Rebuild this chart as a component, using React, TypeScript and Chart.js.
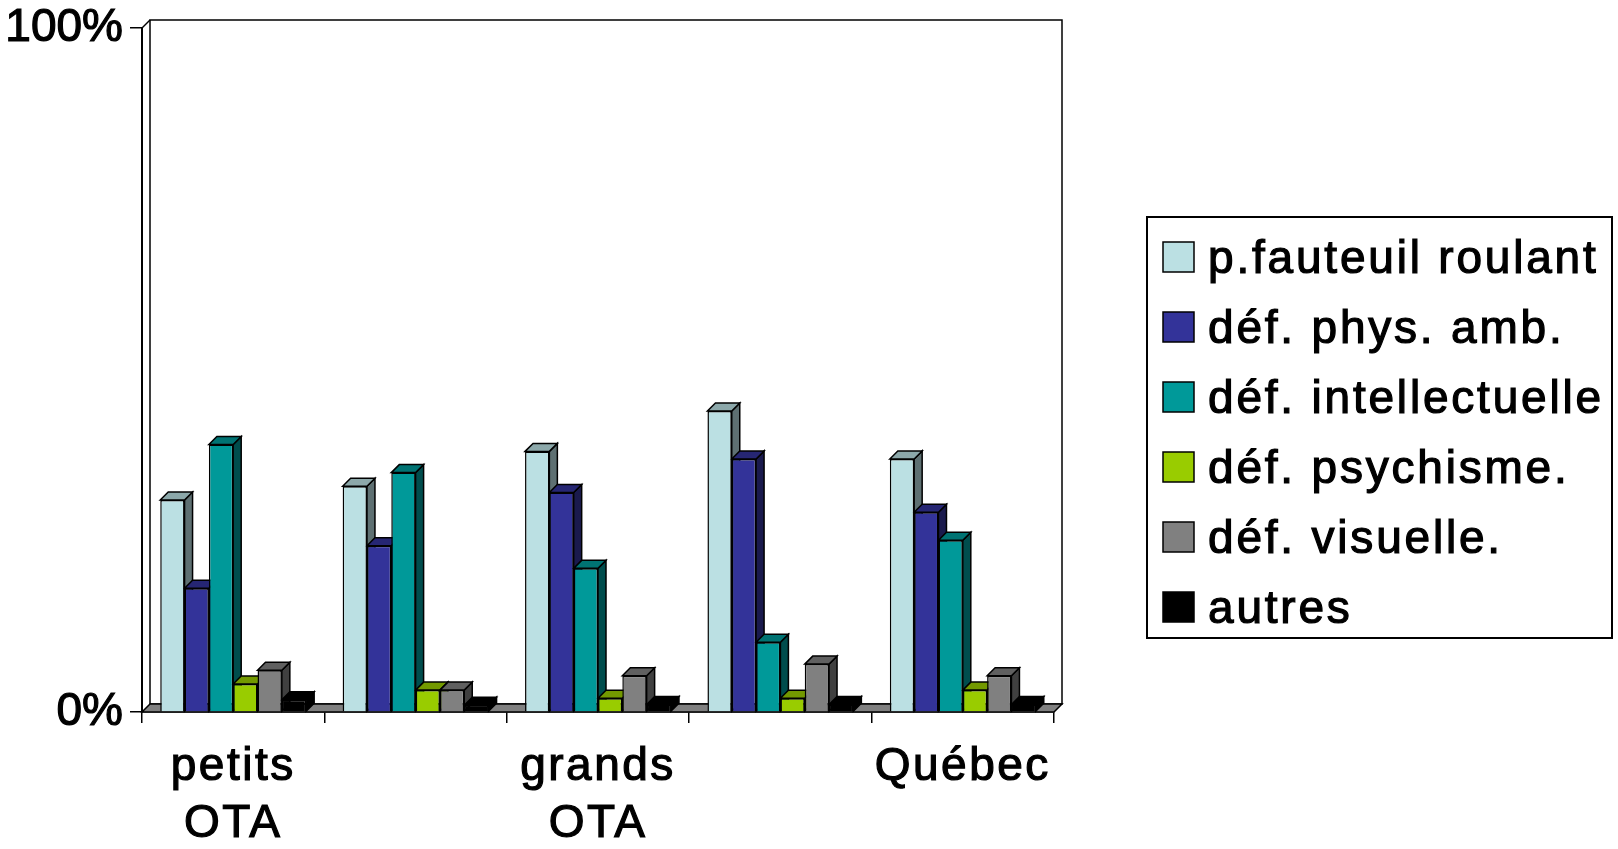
import React, { useEffect, useRef } from "react";
import { Chart, registerables } from "chart.js";

Chart.register(...registerables);

const categories: (string | string[])[] = [["petits", "OTA"], "", ["grands", "OTA"], "", "Québec"];
const seriesLabels = [
  "p.fauteuil roulant",
  "déf. phys. amb.",
  "déf. intellectuelle",
  "déf. psychisme.",
  "déf. visuelle.",
  "autres",
];
const fauteuil = [31.0, 33.0, 38.1, 44.0, 37.0];
const physAmb = [18.1, 24.3, 32.1, 37.0, 29.2];
const intellectuelle = [39.1, 35.0, 21.0, 10.2, 25.1];
const psychisme = [4.1, 3.2, 2.0, 2.0, 3.2];
const visuelle = [6.1, 3.2, 5.3, 7.0, 5.3];
const autres = [1.8, 1.0, 1.1, 1.1, 1.1];
const seriesColors = ["#BBE0E3", "#333399", "#009999", "#99CC00", "#808080", "#000000"];
const yTickValues = [0, 100];

const FONT = "'Liberation Sans', Arial, sans-serif";
const DEPTH = 8;
const X_SPACING = "2.5px";

function shade(hex: string, f: number) {
  const n = parseInt(hex.slice(1), 16);
  const r = Math.round(((n >> 16) & 255) * f);
  const g = Math.round(((n >> 8) & 255) * f);
  const b = Math.round((n & 255) * f);
  return `rgb(${r},${g},${b})`;
}

function poly(ctx: CanvasRenderingContext2D, pts: number[][], fill: string | null) {
  ctx.beginPath();
  ctx.moveTo(pts[0][0], pts[0][1]);
  for (let i = 1; i < pts.length; i++) ctx.lineTo(pts[i][0], pts[i][1]);
  ctx.closePath();
  if (fill) {
    ctx.fillStyle = fill;
    ctx.fill();
  }
  ctx.stroke();
}

function patchLabels(scale: any, spacing: string) {
  if (scale.__patched) return;
  const orig = scale.drawLabels;
  scale.drawLabels = function (area: any) {
    const c = this.ctx;
    const prev = c.letterSpacing;
    c.letterSpacing = spacing;
    orig.call(this, area);
    c.letterSpacing = prev;
  };
  scale.__patched = true;
}

const threeDPlugin = {
  id: "threeD",
  beforeDatasetsDraw(chart: any) {
    const ctx: CanvasRenderingContext2D = chart.ctx;
    const { left, right, top, bottom } = chart.chartArea;
    const D = DEPTH;
    ctx.save();
    ctx.lineWidth = 1.5;
    ctx.strokeStyle = "#000";
    ctx.lineJoin = "miter";
    ctx.strokeRect(left + D, top - D, right - left, bottom - top);
    ctx.beginPath();
    ctx.moveTo(left, top);
    ctx.lineTo(left + D, top - D);
    ctx.stroke();
    poly(ctx, [[left, bottom], [right, bottom], [right + D, bottom - D], [left + D, bottom - D]], "#808080");
    chart.data.datasets.forEach((ds: any, di: number) => {
      const meta = chart.getDatasetMeta(di);
      const col = ds.backgroundColor as string;
      meta.data.forEach((bar: any) => {
        const { x, y, base, width } = bar.getProps(["x", "y", "base", "width"], true);
        const l = x - width / 2;
        const r = x + width / 2;
        poly(ctx, [[r, y], [r + D, y - D], [r + D, base - D], [r, base]], shade(col, 0.5));
        poly(ctx, [[l, y], [l + D, y - D], [r + D, y - D], [r, y]], shade(col, 0.75));
      });
    });
    ctx.restore();
  },
  afterDraw(chart: any) {
    const ctx: CanvasRenderingContext2D = chart.ctx;
    ctx.save();
    ctx.letterSpacing = "2.8px";
    const lx = 1147, ly = 217, lw = 465, lh = 421;
    ctx.fillStyle = "#fff";
    ctx.fillRect(lx, ly, lw, lh);
    ctx.lineWidth = 2;
    ctx.strokeStyle = "#000";
    ctx.strokeRect(lx, ly, lw, lh);
    ctx.font = `46px ${FONT}`;
    ctx.textBaseline = "alphabetic";
    ctx.textAlign = "left";
    chart.data.datasets.forEach((ds: any, i: number) => {
      const sy = 242 + 70 * i;
      ctx.fillStyle = ds.backgroundColor;
      ctx.fillRect(1163, sy, 31, 30);
      ctx.lineWidth = 1.5;
      ctx.strokeRect(1163, sy, 31, 30);
      ctx.fillStyle = "#000";
      ctx.lineWidth = 1.2;
      ctx.fillText(ds.label, 1208, sy + 31);
      ctx.strokeText(ds.label, 1208, sy + 31);
    });
    ctx.restore();
  },
};

export default function App() {
  const ref = useRef<HTMLCanvasElement | null>(null);
  useEffect(() => {
    if (!ref.current) return;
    Chart.defaults.font.family = FONT;
    Chart.defaults.color = "#000";
    const series = [fauteuil, physAmb, intellectuelle, psychisme, visuelle, autres];
    const chart = new Chart(ref.current, {
      type: "bar",
      data: {
        labels: categories,
        datasets: series.map((d, i) => ({
          label: seriesLabels[i],
          data: d,
          backgroundColor: seriesColors[i],
          borderColor: "#000",
          borderWidth: 1.5,
          categoryPercentage: 0.8,
          barPercentage: 1.0,
        })),
      },
      options: {
        animation: false,
        responsive: true,
        maintainAspectRatio: false,
        layout: { padding: { left: 5, top: 28, right: 564, bottom: 0 } },
        plugins: {
          legend: { display: false },
          tooltip: { enabled: false },
        },
        scales: {
          x: {
            grid: {
              offset: true,
              drawOnChartArea: false,
              drawTicks: true,
              tickLength: 11,
              color: "#000",
              lineWidth: 1.5,
            },
            border: { display: true, color: "#000", width: 1.5 },
            ticks: {
              font: { size: 46, lineHeight: 1.24 },
              color: "#000",
              textStrokeColor: "#000",
              textStrokeWidth: 1.2,
              padding: 16,
              maxRotation: 0,
              autoSkip: false,
            },
            afterFit: (s: any) => {
              s.height = 137;
              s.paddingLeft = 0;
              s.paddingRight = 0;
              patchLabels(s, X_SPACING);
            },
          },
          y: {
            min: 0,
            max: 100,
            afterBuildTicks: (axis: any) => {
              axis.ticks = yTickValues.map((v) => ({ value: v }));
            },
            grid: {
              drawOnChartArea: false,
              drawTicks: true,
              tickLength: 12,
              color: "#000",
              lineWidth: 1.5,
            },
            border: { display: true, color: "#000", width: 2 },
            ticks: {
              font: { size: 46 },
              color: "#000",
              textStrokeColor: "#000",
              textStrokeWidth: 1.2,
              padding: 7,
              callback: (v: any) => `${v}%`,
            },
            afterFit: (s: any) => {
              s.width = 137;
              s.paddingTop = 0;
              s.paddingBottom = 0;
              patchLabels(s, "0px");
            },
          },
        },
      },
      plugins: [threeDPlugin],
    });
    return () => chart.destroy();
  }, []);
  return (
    <div style={{ position: "fixed", left: 0, top: 0, width: 1618, height: 849, background: "#fff" }}>
      <canvas ref={ref} />
    </div>
  );
}
